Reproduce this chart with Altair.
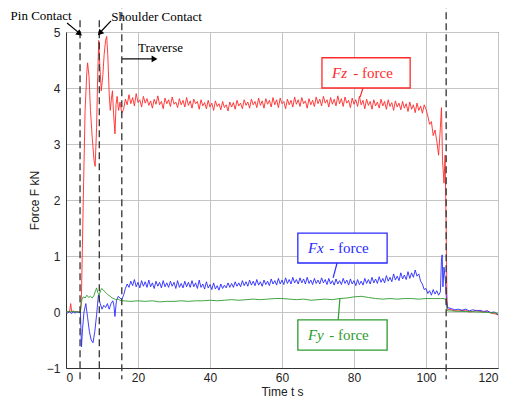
import altair as alt
import numpy as np
import pandas as pd

# ---------------- data ----------------
fz_start_t = [0, 0.5, 1, 1.3, 1.6, 2, 2.5, 3, 3.5, 4.0, 4.3, 4.8, 5.3, 5.8, 6.0, 6.4, 6.8, 7.3, 7.8, 8.1,
              8.5, 8.8, 9.1, 9.4, 9.8, 10.2, 10.6, 11.0, 11.3, 11.6, 12.0, 12.3, 12.6, 12.9, 13.2, 13.6,
              13.9, 14.2, 14.6, 15.0, 15.5]
fz_start_v = [0.0, 0.01, 0.0, 0.15, 0.0, 0.02, 0.0, 0.01, 0.0, 0.0, 0.3, 2.0, 3.6, 4.3, 4.45, 4.2, 3.6, 3.1, 2.7, 2.6,
              3.3, 4.2, 4.85, 4.4, 3.95, 4.2, 4.6, 4.85, 4.92, 4.6, 3.9, 3.6, 3.8, 3.95, 3.55, 3.18,
              3.7, 3.85, 3.6, 3.75, 3.55]

# steady part sampled every 0.5 s from 16.0 to 99.5 s
steady_t = list(np.arange(16.0, 100.0, 0.5))
fz_steady = [
    3.62, 3.80, 3.70, 3.88, 3.72, 3.83, 3.68, 3.90, 3.74, 3.79, 3.66, 3.85,
    3.73, 3.81, 3.69, 3.77, 3.64, 3.80, 3.71, 3.86, 3.70, 3.76, 3.63, 3.82,
    3.72, 3.79, 3.67, 3.84, 3.71, 3.75, 3.65, 3.81, 3.70, 3.78, 3.66, 3.83,
    3.69, 3.77, 3.64, 3.80, 3.72, 3.76, 3.62, 3.79, 3.68, 3.74, 3.63, 3.78,
    3.66, 3.73, 3.60, 3.77, 3.67, 3.72, 3.61, 3.76, 3.65, 3.70, 3.59, 3.75,
    3.66, 3.74, 3.62, 3.78, 3.68, 3.73, 3.63, 3.79, 3.69, 3.75, 3.64, 3.80,
    3.70, 3.76, 3.65, 3.82, 3.69, 3.77, 3.64, 3.81, 3.71, 3.78, 3.66, 3.83,
    3.70, 3.79, 3.65, 3.82, 3.72, 3.76, 3.63, 3.80, 3.70, 3.78, 3.66, 3.84,
    3.71, 3.79, 3.67, 3.83, 3.72, 3.77, 3.64, 3.81, 3.70, 3.78, 3.67, 3.84,
    3.72, 3.80, 3.68, 3.85, 3.73, 3.79, 3.66, 3.83, 3.71, 3.80, 3.68, 3.86,
    3.72, 3.81, 3.67, 3.84, 3.73, 3.78, 3.65, 3.82, 3.71, 3.79, 3.67, 3.85,
    3.70, 3.78, 3.63, 3.80, 3.69, 3.76, 3.62, 3.79, 3.68, 3.75, 3.64, 3.80,
    3.68, 3.76, 3.62, 3.79, 3.67, 3.74, 3.60, 3.77, 3.66, 3.73, 3.61, 3.76,
    3.64, 3.72, 3.58, 3.75, 3.62, 3.70, 3.56, 3.73, 3.60, 3.68, 3.55, 3.70,
]
fz_tail_t = [100, 100.5, 101, 101.5, 102, 102.5, 103, 103.5, 104, 104.3, 104.6, 105, 105.3, 105.6, 105.8, 106,
             107, 108, 109, 110, 111, 112, 113, 114, 115, 116, 117, 118, 119, 120]
fz_tail_v = [3.62, 3.50, 3.35, 3.40, 3.15, 3.25, 3.05, 2.80, 3.30, 3.65, 2.70, 2.30, 2.80, 1.5, 0.3, 0.05,
             0.04, 0.02, 0.02, 0.03, 0.03, 0.0, 0.01, 0.03, 0.01, 0.0, 0.02, -0.02, -0.03, -0.05]

fx_start_t = [0, 0.5, 1, 1.5, 2, 2.5, 3, 3.5, 4.0, 4.3, 4.6, 5.0, 5.5, 6.0, 6.5, 7.0, 7.5, 8.0, 8.5, 9.0,
              9.5, 10.0, 10.5, 11.0, 11.5, 12.0, 12.5, 13.0, 13.3, 13.6, 14.0, 14.5, 15.0, 15.5]
fx_start_v = [0.0, -0.02, 0.01, -0.03, 0.0, -0.02, 0.0, -0.01, 0.0, -0.62, -0.3, 0.0, 0.15, -0.1, -0.35, -0.5,
              -0.55, -0.35, -0.05, 0.3, 0.15, 0.05, 0.12, 0.08, 0.15, 0.05, 0.15, 0.2, 0.12, -0.08, 0.2, 0.28,
              0.25, 0.22]
fx_steady = [
    0.30, 0.42, 0.50, 0.44, 0.55, 0.47, 0.58, 0.45, 0.53, 0.43, 0.56, 0.46,
    0.54, 0.44, 0.57, 0.45, 0.52, 0.42, 0.55, 0.46, 0.53, 0.43, 0.56, 0.45,
    0.52, 0.44, 0.55, 0.46, 0.53, 0.42, 0.56, 0.44, 0.51, 0.43, 0.55, 0.45,
    0.53, 0.44, 0.56, 0.45, 0.52, 0.42, 0.57, 0.44, 0.50, 0.41, 0.54, 0.43,
    0.49, 0.40, 0.52, 0.41, 0.47, 0.39, 0.50, 0.42, 0.48, 0.43, 0.52, 0.44,
    0.51, 0.44, 0.54, 0.46, 0.52, 0.45, 0.56, 0.47, 0.54, 0.46, 0.57, 0.48,
    0.55, 0.47, 0.58, 0.48, 0.54, 0.46, 0.57, 0.49, 0.55, 0.47, 0.59, 0.50,
    0.56, 0.48, 0.60, 0.50, 0.57, 0.49, 0.61, 0.51, 0.58, 0.50, 0.62, 0.52,
    0.58, 0.50, 0.61, 0.52, 0.59, 0.50, 0.62, 0.51, 0.57, 0.49, 0.60, 0.51,
    0.57, 0.50, 0.61, 0.52, 0.58, 0.49, 0.60, 0.50, 0.56, 0.48, 0.59, 0.50,
    0.56, 0.49, 0.60, 0.51, 0.57, 0.48, 0.59, 0.50, 0.56, 0.47, 0.58, 0.49,
    0.55, 0.48, 0.60, 0.51, 0.58, 0.50, 0.62, 0.52, 0.59, 0.51, 0.63, 0.53,
    0.60, 0.52, 0.65, 0.55, 0.62, 0.54, 0.68, 0.57, 0.64, 0.56, 0.70, 0.59,
    0.66, 0.58, 0.72, 0.60, 0.70, 0.62, 0.75, 0.64, 0.68, 0.55, 0.50, 0.40,
]
fx_tail_t = [100, 100.5, 101, 101.5, 102, 102.5, 103, 103.5, 104, 104.3, 104.5, 104.7, 105, 105.4, 105.7, 106,
             107, 108, 109, 110, 111, 112, 113, 114, 115, 116, 117, 118, 119, 120]
fx_tail_v = [0.42, 0.33, 0.38, 0.30, 0.40, 0.32, 0.38, 0.30, 0.36, 0.95, 1.02, 0.45, 0.80, 0.55, 0.2, 0.08,
             0.06, 0.04, 0.05, 0.03, 0.05, 0.02, 0.04, 0.02, 0.03, 0.01, 0.02, -0.01, 0.0, -0.05]

fy_t = [0, 0.5, 1, 2, 3, 4.0, 4.4, 4.8, 5.3, 5.8, 6.3, 6.8, 7.3, 7.8, 8.2, 8.5, 8.8, 9.2, 9.6, 9.9, 10.3,
        10.8, 11.3, 11.8, 12.3, 12.8, 13.3, 13.8, 14.5, 15.0, 15.5,
        16, 18, 20, 22, 24, 26, 28, 30, 32, 34, 36, 38, 40, 42, 44, 46, 48, 50, 52, 54, 56, 58, 60,
        62, 64, 66, 68, 70, 72, 74, 76, 78, 80, 82, 84, 86, 88, 90, 92, 94, 96, 98, 100, 102, 104,
        105, 105.5, 105.8, 106, 110, 115, 120]
fy_v = [0.0, 0.01, 0.0, 0.01, 0.0, 0.0, 0.22, 0.27, 0.25, 0.3, 0.26, 0.28, 0.25, 0.3, 0.38, 0.43, 0.35, 0.3,
        0.38, 0.42, 0.4, 0.36, 0.33, 0.3, 0.28, 0.25, 0.24, 0.22, 0.23, 0.21, 0.2,
        0.20, 0.19, 0.20, 0.19, 0.20, 0.18, 0.19, 0.19, 0.20, 0.19, 0.20, 0.20, 0.21, 0.20, 0.21, 0.22,
        0.21, 0.22, 0.23, 0.22, 0.23, 0.24, 0.24, 0.23, 0.22, 0.23, 0.21, 0.22, 0.23, 0.22, 0.24, 0.25,
        0.27, 0.28, 0.26, 0.24, 0.23, 0.24, 0.23, 0.24, 0.24, 0.23, 0.24, 0.24, 0.24,
        0.24, 0.22, 0.05, 0.02, 0.01, 0.0, -0.02]

event_t = [3.9, 9.25, 15.5, 105.6]
event_top = [5.21, 5.21, 5.55, 5.55]
event_bottom = [-1.2, -1.2, -1.2, -1.2]

series = ["Fz", "Fx", "Fy"]
colors = ["#ff2a2a", "#2a2aff", "#2f9a2f"]

# ---------------- tables ----------------
frames = [
    pd.DataFrame({"t": fz_start_t + steady_t + fz_tail_t, "v": fz_start_v + fz_steady + fz_tail_v, "s": "Fz"}),
    pd.DataFrame({"t": fx_start_t + steady_t + fx_tail_t, "v": fx_start_v + fx_steady + fx_tail_v, "s": "Fx"}),
    pd.DataFrame({"t": fy_t, "v": fy_v, "s": "Fy"}),
]
lines_df = pd.concat(frames, ignore_index=True)

xs = alt.Scale(domain=[0, 120], nice=False, zero=False)
ys = alt.Scale(domain=[-1, 5], nice=False, zero=False)
cs = alt.Scale(domain=series, range=colors)

x_enc = alt.X("t:Q", scale=xs, axis=alt.Axis(values=[0, 20, 40, 60, 80, 100, 120], title="Time t s", format="d",
                                              grid=True, ticks=False, labelPadding=4, titlePadding=3))
y_enc = alt.Y("v:Q", scale=ys, axis=alt.Axis(values=[-1, 0, 1, 2, 3, 4, 5], title="Force F kN", format="d",
                                              grid=True, ticks=False, labelPadding=6, titlePadding=5))

lines = alt.Chart(lines_df).mark_line(strokeWidth=1, opacity=0.9).encode(
    x=x_enc, y=y_enc,
    color=alt.Color("s:N", scale=cs, legend=None),
    detail="s:N",
)

rules_df = pd.DataFrame({"t": event_t, "top": event_top, "bot": event_bottom})
rules = alt.Chart(rules_df).mark_rule(color="#333333", strokeDash=[7, 4], strokeWidth=1.3, clip=False).encode(
    x=alt.X("t:Q", scale=xs), y=alt.Y("top:Q", scale=ys), y2="bot:Q"
)

# annotation boxes
boxes_df = pd.DataFrame({
    "x1": [71.1, 64.4, 64.4], "x2": [95.6, 89.2, 89.2],
    "y1": [4.54, 1.41, -0.14], "y2": [4.0, 0.875, -0.68],
    "s": series,
})
boxes = alt.Chart(boxes_df).mark_rect(fill="white", strokeWidth=1.3).encode(
    x=alt.X("x1:Q", scale=xs), x2="x2:Q", y=alt.Y("y1:Q", scale=ys), y2="y2:Q",
    stroke=alt.Color("s:N", scale=cs, legend=None),
)
leaders_df = pd.DataFrame({
    "x1": [82.5, 75.3, 75.6], "x2": [81.7, 74.2, 76.1],
    "y1": [4.0, 0.875, -0.14], "y2": [3.84, 0.61, 0.25],
    "s": series,
})
leaders = alt.Chart(leaders_df).mark_rule(strokeWidth=1.2).encode(
    x=alt.X("x1:Q", scale=xs), x2="x2:Q", y=alt.Y("y1:Q", scale=ys), y2="y2:Q",
    color=alt.Color("s:N", scale=cs, legend=None),
)
sym_df = pd.DataFrame({"x": [73.9, 67.2, 67.2], "y": [4.27, 1.14, -0.41], "lab": ["Fz", "Fx", "Fy"], "s": series})
sym = alt.Chart(sym_df).mark_text(font="Liberation Serif", fontSize=15, fontStyle="italic", align="left",
                                  baseline="middle").encode(
    x=alt.X("x:Q", scale=xs), y=alt.Y("y:Q", scale=ys), text="lab:N",
    color=alt.Color("s:N", scale=cs, legend=None),
)
word_df = pd.DataFrame({"x": [79.8, 73.1, 73.1], "y": [4.27, 1.14, -0.41], "lab": ["- force"] * 3, "s": series})
word = alt.Chart(word_df).mark_text(font="Liberation Serif", fontSize=15, align="left",
                                    baseline="middle").encode(
    x=alt.X("x:Q", scale=xs), y=alt.Y("y:Q", scale=ys), text="lab:N",
    color=alt.Color("s:N", scale=cs, legend=None),
)

# top annotations
notes_df = pd.DataFrame({"x": [-15.4, 12.6, 20.0], "y": [5.28, 5.27, 4.72],
                         "lab": ["Pin Contact", "Shoulder Contact", "Traverse"]})
notes = alt.Chart(notes_df).mark_text(font="Liberation Serif", fontSize=13, align="left", baseline="middle",
                                      color="black", clip=False).encode(
    x=alt.X("x:Q", scale=xs), y=alt.Y("y:Q", scale=ys), text="lab:N"
)
arrows_df = pd.DataFrame({"x1": [0.3, 12.5, 15.6], "x2": [3.7, 9.6, 24.0],
                          "y1": [5.16, 5.2, 4.52], "y2": [4.98, 5.0, 4.52]})
arrows = alt.Chart(arrows_df).mark_rule(color="black", strokeWidth=1.2, clip=False).encode(
    x=alt.X("x1:Q", scale=xs), x2="x2:Q", y=alt.Y("y1:Q", scale=ys), y2="y2:Q"
)
heads_df = pd.DataFrame({"x": [3.8, 9.4, 24.6], "y": [4.97, 4.98, 4.52], "a": [128, 222, 90]})
heads = alt.Chart(heads_df).mark_point(shape="triangle-up", filled=True, color="black", size=45, opacity=1,
                                       clip=False).encode(
    x=alt.X("x:Q", scale=xs), y=alt.Y("y:Q", scale=ys), angle=alt.Angle("a:Q", scale=None)
)

chart = alt.layer(lines, rules, leaders, boxes, sym, word, notes, arrows, heads).properties(
    width=432, height=336,
    autosize=alt.AutoSizeParams(type="none"),
    padding={"left": 58, "top": 24, "right": 6, "bottom": 37},
).configure_view(
    stroke="#333333", strokeWidth=1
).configure_axis(
    gridColor="#c4c4c4", gridWidth=1, domainColor="#333333", domainWidth=1,
    labelFont="Liberation Sans", labelFontSize=12, labelColor="#222222",
    titleFont="Liberation Sans", titleFontSize=12, titleFontWeight="normal", titleColor="#222222",
)

chart.save("out.html", embed_options={"renderer": "svg", "actions": False})
